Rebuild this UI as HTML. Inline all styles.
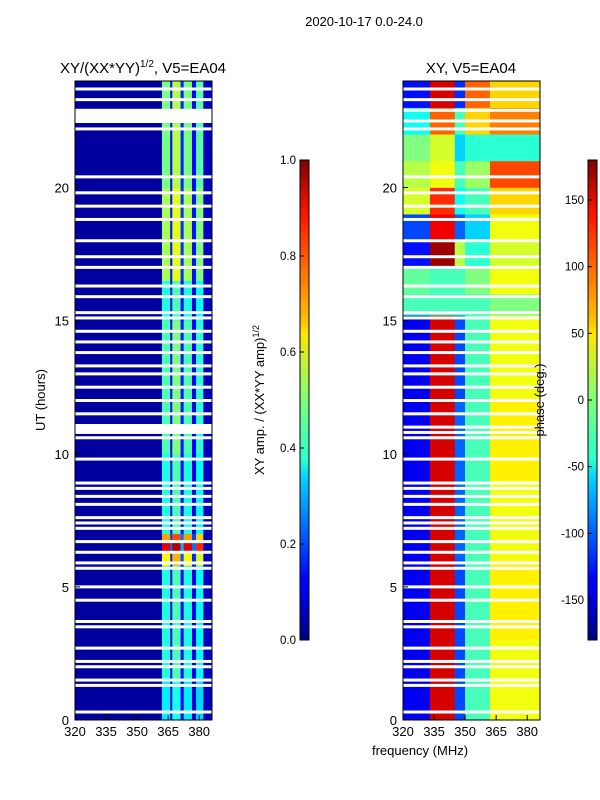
<!DOCTYPE html>
<html><head><meta charset="utf-8"><style>
body{margin:0;background:#fff;}
svg{display:block;font-family:"Liberation Sans",sans-serif;}
</style></head><body>
<svg id="fig" width="600" height="800" viewBox="0 0 600 800">
<defs>
<linearGradient id="jet" x1="0" y1="1" x2="0" y2="0">
<stop offset="0" stop-color="#00007f"/><stop offset="0.11" stop-color="#0000ff"/><stop offset="0.125" stop-color="#0000ff"/>
<stop offset="0.34" stop-color="#00d4ff"/><stop offset="0.375" stop-color="#29ffce"/><stop offset="0.5" stop-color="#7dff7a"/>
<stop offset="0.64" stop-color="#ffe600"/><stop offset="0.66" stop-color="#ffc400"/><stop offset="0.89" stop-color="#ff1300"/><stop offset="1" stop-color="#7f0000"/>
</linearGradient>
</defs>
<text x="364" y="26" font-size="13" text-anchor="middle">2020-10-17 0.0-24.0</text>
<g id="left"></g>
<g id="right"></g>
<g id="cb"></g>
</svg>
<script>
// ---- data ----
const ampFreqEdges = [320,362,366,367,371,372.5,376.5,378.5,382,386];
const ampValues    = [0.03,0.45,0.12,0.5,0.15,0.45,0.12,0.42,0.06];
const ampHourEdges = [0,1.5,5.8,6.3,6.7,7.0,10,15,16,16.5,20,24];
const ampHourFactor= [0.8,0.9,1.4,2.0,1.6,0.9,1.0,0.9,0.9,1.2,1.1];
const phaseFreqEdges = [320,333,345,350,362,386];
const phaseHourEdges = [0,3,6,9,12,15.2,16,17,18,19,20,21,22,23,24];
const phaseGrid = [
 [-140,150,-110,-20,40],
 [-140,150,-110,-20,50],
 [-140,150,-100,-20,40],
 [-140,150,-100,-20,50],
 [-140,150,-110,-20,40],
 [-20,-20,-20,-20,0],
 [-10,-20,-20,0,40],
 [-130,170,20,-30,30],
 [-110,140,-100,-60,40],
 [30,120,-40,-20,60],
 [20,40,-20,10,110],
 [0,30,-60,-30,-30],
 [-40,100,-20,60,90],
 [-130,150,-120,100,60]
];
const gapHours = [0.3,1.3,1.5,2.0,2.2,2.7,3.5,3.7,4.5,5.0,5.7,5.9,6.3,6.7,7.2,7.4,7.6,8.1,8.4,8.7,8.9,9.8,10.6,10.8,11.0,11.5,12.0,12.5,13.0,13.3,13.8,14.2,14.6,15.1,15.3,15.9,16.3,17.0,17.4,18.0,18.8,19.3,19.8,20.4,22.2,22.5,22.9,23.3,23.7];
const xTicks = [320,335,350,365,380];
const yTicks = [0,5,10,15,20];
const ampTicks = [0.0,0.2,0.4,0.6,0.8,1.0];
const phaseTicks = [-150,-100,-50,0,50,100,150];

const NS="http://www.w3.org/2000/svg";
function el(tag,attrs,parent){const e=document.createElementNS(NS,tag);for(const k in attrs)e.setAttribute(k,attrs[k]);parent.appendChild(e);return e;}
function jet(v){v=Math.max(0,Math.min(1,v));
 const r=Math.max(0,Math.min(1,1.5-Math.abs(4*v-3))),g=Math.max(0,Math.min(1,1.5-Math.abs(4*v-2))),b=Math.max(0,Math.min(1,1.5-Math.abs(4*v-1)));
 return `rgb(${Math.round(r*255)},${Math.round(g*255)},${Math.round(b*255)})`;}
const yTop=81,yBot=720;
function yS(h){return yBot-(h/24)*(yBot-yTop);}
function xS(x0){return f=>x0+(f-320)*2.07;}

function axes(g,x0,title){
 const xs=xS(x0);
 const fr=el('rect',{x:x0,y:yTop,width:137,height:yBot-yTop,fill:'none',stroke:'#000','stroke-width':1},g);
 
 xTicks.forEach(t=>{const x=xs(t);
  el('line',{x1:x,y1:yBot,x2:x,y2:yBot-5,stroke:'#000'},g);
  const tx=el('text',{x:x,y:yBot+16,'font-size':13,'text-anchor':'middle'},g);tx.textContent=t;
  
  });
 yTicks.forEach(t=>{const y=yS(t);
  el('line',{x1:x0,y1:y,x2:x0+5,y2:y,stroke:'#000'},g);
  const tx=el('text',{x:x0-6,y:y+5,'font-size':13,'text-anchor':'end'},g);tx.textContent=t;
  
  });
 const tt=el('text',{x:x0+68,y:73,'font-size':15,'text-anchor':'middle'},g);tt.innerHTML=title;
 
 
}
function cellsRow(g,xs,edges,valFn,y1,y2){
 for(let i=0;i<edges.length-1;i++){
  const r=el('rect',{x:xs(edges[i]),y:y1,width:xs(edges[i+1])-xs(edges[i])+0.3,height:y2-y1+0.3,fill:valFn(i)},g);
  
  
 }}
function gaps(g,x0){gapHours.forEach(h=>{
 const r=el('rect',{x:x0,y:yS(h)-1.5,width:137,height:3,fill:'#fff'},g);
 
 });}

// left panel
const L=document.getElementById('left'),xL=xS(75);
for(let j=0;j<ampHourEdges.length-1;j++){
 cellsRow(L,xL,ampFreqEdges,i=>{const base=ampValues[i];const v=(i===0||i===ampValues.length-1)?base:Math.min(0.95,base*ampHourFactor[j]);return jet(v);},yS(ampHourEdges[j+1]),yS(ampHourEdges[j]));
}
gaps(L,75);
el('rect',{x:75,y:111,width:137,height:12,fill:'#fff'},L);
el('rect',{x:75,y:424,width:137,height:7,fill:'#fff'},L);
axes(L,75,'XY/(XX*YY)<tspan font-size="10" dy="-6">1/2</tspan><tspan dy="6">, V5=EA04</tspan>');
const yl=el('text',{x:45,y:400,'font-size':13,'text-anchor':'middle',transform:'rotate(-90 45 400)'},L);yl.textContent='UT (hours)';



// right panel
const R=document.getElementById('right'),xR=xS(403);
for(let j=0;j<phaseHourEdges.length-1;j++){
 cellsRow(R,xR,phaseFreqEdges,i=>jet((phaseGrid[j][i]+180)/360),yS(phaseHourEdges[j+1]),yS(phaseHourEdges[j]));
}
gaps(R,403);
axes(R,403,'XY, V5=EA04');
const xl=el('text',{x:420,y:755,'font-size':13,'text-anchor':'middle'},R);xl.textContent='frequency (MHz)';



// colorbars
const C=document.getElementById('cb');
function cbar(x,ticks,fn,label,lx){
 const r=el('rect',{x:x,y:160,width:9,height:480,fill:'url(#jet)',stroke:'#000','stroke-width':1},C);
 
 
 ticks.forEach(t=>{const y=fn(t);
  el('line',{x1:x,y1:y,x2:x+4,y2:y,stroke:'#000'},C);
  const tx=el('text',{x:x-4,y:y+4,'font-size':11.5,'text-anchor':'end'},C);tx.textContent=t;
  
  });
 const lt=el('text',{x:lx,y:400,'font-size':13,'text-anchor':'middle',transform:`rotate(-90 ${lx} 400)`},C);lt.innerHTML=label;
 
 
}
cbar(300,ampTicks.map(t=>t.toFixed(1)),t=>640-parseFloat(t)*480,'XY amp. / (XX*YY amp)<tspan font-size="9" dy="-5">1/2</tspan>',264);
cbar(588,phaseTicks,t=>400-t*1.3333,'phase (deg.)',544);
</script>
</body></html>
